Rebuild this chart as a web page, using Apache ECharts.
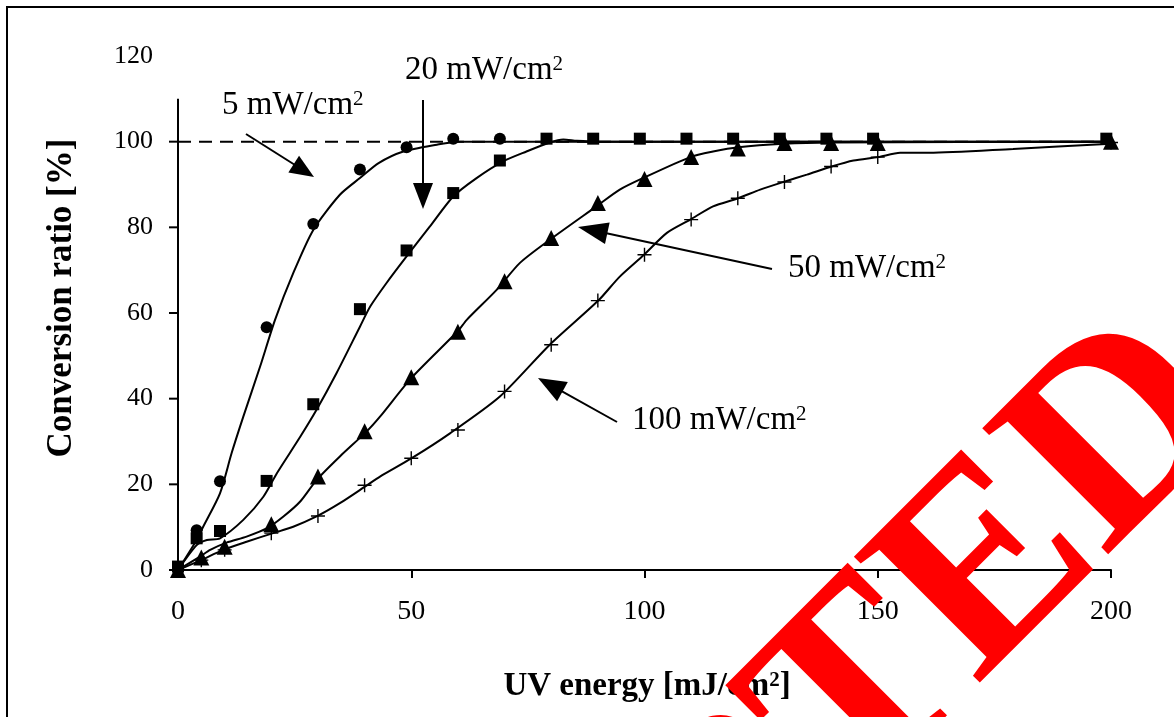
<!DOCTYPE html>
<html>
<head>
<meta charset="utf-8">
<script src="https://cdn.jsdelivr.net/npm/echarts@6/dist/echarts.min.js"></script>
<style>html,body{margin:0;padding:0;background:#fff;}#chart{width:1174px;height:717px;}</style>
</head>
<body>
<div id="chart"></div>
<script>
// ---- data ----
const xTickVals = [0, 50, 100, 150, 200];
const yTickVals = [0, 20, 40, 60, 80, 100];
const yAxisTop = 110;
const refLineY = 100;

const circleX = [0, 4, 9, 19, 29, 39, 49, 59, 69];
const circleY = [0.5, 9.3, 20.7, 56.7, 80.8, 93.5, 98.7, 100.7, 100.7];

const squareX = [0, 4, 9, 19, 29, 39, 49, 59, 69, 79, 89, 99, 109, 119, 129, 139, 149, 199];
const squareY = [0.8, 7.4, 9.1, 20.8, 38.7, 60.9, 74.6, 88, 95.6, 100.7, 100.7, 100.7, 100.7, 100.7, 100.7, 100.7, 100.7, 100.7];

const triX = [0, 5, 10, 20, 30, 40, 50, 60, 70, 80, 90, 100, 110, 120, 130, 140, 150, 200];
const triY = [0, 2.9, 5.4, 10.7, 21.8, 32.4, 45, 55.6, 67.4, 77.5, 85.7, 91.3, 96.4, 98.4, 99.7, 99.7, 99.7, 100];

const crossX = [0, 5, 10, 20, 30, 40, 50, 60, 70, 80, 90, 100, 110, 120, 130, 140, 150, 200];
const crossY = [0, 2.3, 4.7, 8.6, 12.6, 19.8, 26.1, 32.7, 41.7, 52.6, 62.9, 73.6, 81.8, 86.8, 90.6, 94.2, 96.4, 99.8];

const fit5X = [0, 4, 5.4, 9, 11.5, 14, 17.6, 20.8, 24.7, 29, 34.7, 39, 43, 48.3, 55.5, 60, 200];
const fit5Y = [0, 7, 10.1, 17.9, 27.3, 35.8, 47.5, 58.4, 69.3, 79.4, 87.6, 91.5, 95, 97.7, 99.3, 100, 100];

const fit20X = [0, 4, 6.2, 9, 14, 18.3, 21.2, 26.2, 29.7, 34, 39, 41.2, 44.7, 49, 54, 59, 64, 69.7, 74.7, 79.7, 82.6, 85.5, 90, 200];
const fit20Y = [0, 5.8, 7, 7.4, 11.7, 17.1, 22.6, 31.1, 37.4, 46, 56.8, 61.5, 67, 73.2, 80.2, 87.2, 91.5, 95.4, 97.7, 99.8, 100.5, 100.2, 100, 100];

const fit50X = [0, 4.7, 6.9, 10.4, 14.7, 19, 22.6, 26.2, 29.7, 34.7, 40.4, 43.3, 50, 60, 61.9, 68.3, 73.3, 79.7, 89.7, 94.7, 99.7, 109.8, 114.7, 120.1, 129.8, 140, 200];
const fit50Y = [0, 3.1, 4.7, 6.4, 7.8, 9.7, 12.5, 16, 21, 26.5, 32.3, 35.8, 44.8, 55.8, 58.4, 65.4, 71.7, 77.1, 84.9, 88.8, 91.5, 96.4, 97.7, 98.7, 99.5, 99.8, 100];

const fit100X = [0, 4.7, 9.7, 14.7, 20.4, 24.7, 29.7, 34.7, 40.4, 43.3, 50.1, 58.3, 69, 79.7, 90.1, 94.7, 99.9, 104.8, 109.8, 114.7, 120.1, 124.8, 129.8, 134.8, 140.1, 144.8, 150.1, 154.8, 161, 179, 200];
const fit100Y = [0, 2.2, 4.7, 6.6, 8.6, 10.1, 12.5, 15.6, 19.7, 21.8, 26.1, 31.9, 40.5, 52.6, 62.9, 68.5, 73.6, 78.7, 81.8, 84.9, 86.8, 88.8, 90.6, 92.3, 94.2, 95.6, 96.4, 97.4, 97.4, 98.3, 99.5];

const labelNums = ['5', '20', '50', '100'];
const unitBase = 'mW/cm';
const unitSup = '2';
const xTitleBase = 'UV energy [mJ/cm';
const xTitleEnd = ']';
const yTitle = 'Conversion ratio [%]';
const stampText = 'ACCEPTED';

// ---- helpers ----
const zip = (xs, ys) => xs.map((x, i) => [x, ys[i]]);
const FONT = '"Liberation Serif", "Times New Roman", serif';
const crossPath = 'path://M0,6.3H14V7.7H0Z M6.3,0H7.7V14H6.3Z';

function fitSeries(xs, ys) {
  return { type: 'line', data: zip(xs, ys), showSymbol: false, symbol: 'none', smooth: 0.25,
    lineStyle: { color: '#000', width: 2 }, silent: true, z: 3 };
}
function markerSeries(xs, ys, symbol, size) {
  return { type: 'scatter', data: zip(xs, ys), symbol: symbol, symbolSize: size, clip: false,
    itemStyle: { color: '#000', opacity: 1 }, silent: true, z: 5 };
}

function arrow(x1, y1, x2, y2, headLen, headW) {
  const dx = x2 - x1, dy = y2 - y1, L = Math.hypot(dx, dy);
  const ux = dx / L, uy = dy / L, px = -uy, py = ux;
  const bx = x2 - ux * headLen, by = y2 - uy * headLen;
  return [
    { type: 'line', shape: { x1: x1, y1: y1, x2: bx + ux * 2, y2: by + uy * 2 }, style: { stroke: '#000', lineWidth: 2 }, z: 10 },
    { type: 'polygon', shape: { points: [[x2, y2], [bx + px * headW / 2, by + py * headW / 2], [bx - px * headW / 2, by - py * headW / 2]] }, style: { fill: '#000' }, z: 10 }
  ];
}

function supText(x, y, base, sup, tail, size, weight, align) {
  return { type: 'text', x: x, y: y, z: 10, style: {
    text: '{a|' + base + '}{s|' + sup + '}' + (tail ? '{a|' + tail + '}' : ''),
    align: align, verticalAlign: 'middle',
    rich: {
      a: { fontFamily: FONT, fontSize: size, fontWeight: weight, fill: '#000', lineHeight: size * 1.15, verticalAlign: 'bottom' },
      s: { fontFamily: FONT, fontSize: Math.round(size * 0.64), fontWeight: weight, fill: '#000', lineHeight: Math.round(size * 0.64), verticalAlign: 'top', padding: [Math.round(size * 0.14), 0, 0, 0] }
    }
  } };
}

const chart = echarts.init(document.getElementById('chart'), null, { renderer: 'canvas' });

const option = {
  animation: false,
  backgroundColor: '#fff',
  grid: { left: 178, right: 63, top: 56, bottom: 147 },
  xAxis: {
    type: 'value', min: 0, max: 200, interval: 50,
    axisLine: { show: true, lineStyle: { color: '#000', width: 2 } },
    axisTick: { show: true, inside: false, length: 8, lineStyle: { color: '#000', width: 2 } },
    axisLabel: { color: '#000', fontFamily: FONT, fontSize: 28, margin: 28,
      formatter: v => xTickVals.indexOf(v) >= 0 ? String(v) : '' },
    splitLine: { show: false }
  },
  yAxis: {
    type: 'value', min: 0, max: 120, interval: 20,
    axisLine: { show: false }, axisTick: { show: false },
    axisLabel: { color: '#000', fontFamily: FONT, fontSize: 26, margin: 25 },
    splitLine: { show: false }
  },
  series: [
    { type: 'line', data: [[0, refLineY], [200, refLineY]], symbol: 'none', silent: true, z: 2,
      lineStyle: { color: '#000', width: 2, type: [13, 8] } },
    {
      type: 'custom', silent: true, clip: false, z: 4, data: [[0, 0]],
      renderItem: function (params, api) {
        const top = api.coord([0, yAxisTop]);
        const bot = api.coord([0, 0]);
        const children = [{ type: 'line', shape: { x1: top[0], y1: top[1], x2: bot[0], y2: bot[1] + 1 }, style: { stroke: '#000', lineWidth: 2 } }];
        yTickVals.forEach(v => {
          const p = api.coord([0, v]);
          children.push({ type: 'line', shape: { x1: p[0] - 9, y1: p[1], x2: p[0], y2: p[1] }, style: { stroke: '#000', lineWidth: 2 } });
        });
        return { type: 'group', children: children };
      }
    },
    fitSeries(fit5X, fit5Y),
    fitSeries(fit20X, fit20Y),
    fitSeries(fit50X, fit50Y),
    fitSeries(fit100X, fit100Y),
    markerSeries(circleX, circleY, 'circle', 12),
    markerSeries(squareX, squareY, 'rect', 12),
    markerSeries(triX, triY, 'triangle', 16),
    markerSeries(crossX, crossY, crossPath, 14)
  ],
  graphic: [].concat(
    [{ type: 'rect', shape: { x: 7, y: 7, width: 1200, height: 730 }, style: { fill: 'none', stroke: '#000', lineWidth: 2 }, z: 1 }],
    [supText(647, 684, xTitleBase, unitSup, xTitleEnd, 33, 'bold', 'center')],
    [{ type: 'text', x: 62, y: 298, rotation: Math.PI / 2, style: { text: yTitle, font: 'bold 35px ' + FONT, fill: '#000', align: 'center', verticalAlign: 'middle' }, z: 10 }],
    [supText(222, 103, labelNums[0] + ' ' + unitBase, unitSup, '', 33, 'normal', 'left')],
    [supText(405, 68, labelNums[1] + ' ' + unitBase, unitSup, '', 33, 'normal', 'left')],
    [supText(788, 266, labelNums[2] + ' ' + unitBase, unitSup, '', 33, 'normal', 'left')],
    [supText(632, 418, labelNums[3] + ' ' + unitBase, unitSup, '', 33, 'normal', 'left')],
    arrow(246, 134, 314, 177, 24, 20),
    arrow(423, 100, 423, 209, 26, 20),
    arrow(772, 269, 578, 227, 30, 22),
    arrow(617, 422, 538, 378, 28, 22),
    [{ type: 'text', x: 1194, y: 369, rotation: Math.PI / 4, style: { text: stampText, font: 'bold 272px ' + FONT, fill: '#ff0000', align: 'right', verticalAlign: 'middle' }, z: 20 }]
  )
};
chart.setOption(option);
</script>
</body>
</html>
